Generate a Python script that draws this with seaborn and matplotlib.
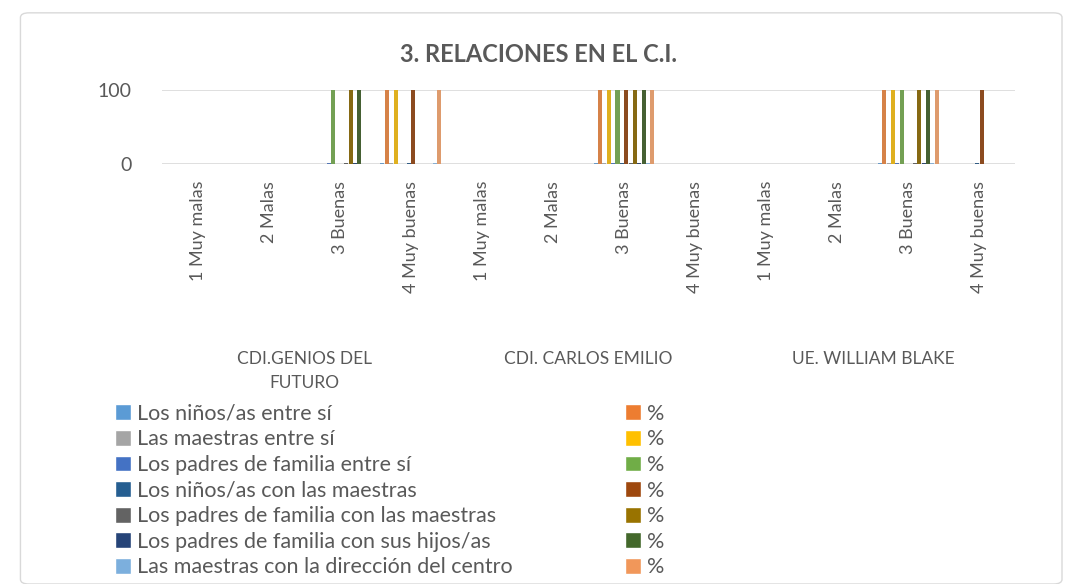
import numpy as np
import pandas as pd
import seaborn as sns
import matplotlib.pyplot as plt
from matplotlib.patches import Patch, FancyBboxPatch
from matplotlib.transforms import blended_transform_factory

# --- data ---
centros = ["CDI.GENIOS DEL\nFUTURO", "CDI. CARLOS EMILIO", "UE. WILLIAM BLAKE"]
valoraciones = ["1 Muy malas", "2 Malas", "3 Buenas", "4 Muy buenas"]

relaciones = [
    "Los niños/as entre sí",
    "Las maestras entre sí",
    "Los padres de familia entre sí",
    "Los niños/as con las maestras",
    "Los padres de familia con las maestras",
    "Los padres de familia con sus hijos/as",
    "Las maestras con la dirección del centro",
]

# percentage per relation (rows) for each of the 12 categories (3 centres x 4 ratings)
porcentaje = [
    [0, 0, 0, 100,   0, 0, 100, 0,   0, 0, 100, 0],
    [0, 0, 0, 100,   0, 0, 100, 0,   0, 0, 100, 0],
    [0, 0, 100, 0,   0, 0, 100, 0,   0, 0, 100, 0],
    [0, 0, 0, 100,   0, 0, 100, 0,   0, 0, 0, 100],
    [0, 0, 100, 0,   0, 0, 100, 0,   0, 0, 100, 0],
    [0, 0, 100, 0,   0, 0, 100, 0,   0, 0, 100, 0],
    [0, 0, 0, 100,   0, 0, 100, 0,   0, 0, 100, 0],
]
# counts (frequency) per relation, tiny next to the percentages
frecuencia = [
    [0, 0, 0, 1,   0, 0, 1, 0,   0, 0, 1, 0],
    [0, 0, 0, 1,   0, 0, 1, 0,   0, 0, 1, 0],
    [0, 0, 1, 0,   0, 0, 1, 0,   0, 0, 1, 0],
    [0, 0, 0, 1,   0, 0, 1, 0,   0, 0, 0, 1],
    [0, 0, 1, 0,   0, 0, 1, 0,   0, 0, 1, 0],
    [0, 0, 1, 0,   0, 0, 1, 0,   0, 0, 1, 0],
    [0, 0, 0, 1,   0, 0, 1, 0,   0, 0, 1, 0],
]

col_frec = ["#5B9BD5", "#A5A5A5", "#4472C4", "#255E91", "#636363", "#264478", "#7CAFDD"]
col_pct = ["#ED7D31", "#FFC000", "#70AD47", "#9E480E", "#997300", "#43682B", "#F1975A"]

# --- long table: series interleaved (count, %) like the original sheet ---
cat_keys = [f"{c}|{v}" for c in centros for v in valoraciones]
rows = []
serie_order = []
palette = {}
for i, rel in enumerate(relaciones):
    s_f, s_p = f"f{i}", f"p{i}"
    serie_order += [s_f, s_p]
    palette[s_f] = col_frec[i]
    palette[s_p] = col_pct[i]
    for k, key in enumerate(cat_keys):
        rows.append({"cat": key, "serie": s_f, "valor": frecuencia[i][k]})
        rows.append({"cat": key, "serie": s_p, "valor": porcentaje[i][k]})
df = pd.DataFrame(rows)

# --- plot ---
sns.set_theme(style="white")
plt.rcParams["font.family"] = ["Lato", "DejaVu Sans"]
txt = "#595959"

fig = plt.figure(figsize=(10.76, 5.84), dpi=100)
fig.patches.append(FancyBboxPatch((0.019, 0.0), 0.968, 0.978,
                                  boxstyle="round,pad=0,rounding_size=0.008",
                                  transform=fig.transFigure, facecolor="white",
                                  edgecolor="#D9D9D9", linewidth=1.0, zorder=-1))
ax = fig.add_axes([162 / 1076, 1 - 164 / 584, 853 / 1076, 74 / 584])

for y in (0, 100):
    ax.axhline(y, color="#D9D9D9", linewidth=1.2, zorder=0)

sns.barplot(data=df, x="cat", y="valor", hue="serie", order=cat_keys,
            hue_order=serie_order, palette=palette, width=0.86, gap=0.08,
            linewidth=0, legend=False, ax=ax, zorder=2)

ax.set_ylim(0, 100)
ax.set_xlim(-0.5, len(cat_keys) - 0.5)
ax.set_yticks([0, 100])
ax.set_yticklabels(["0", "100"], fontsize=14, color=txt)
ax.set_xticks(range(len(cat_keys)))
ax.set_xticklabels([k.split("|")[1] for k in cat_keys], rotation=90,
                   fontsize=13, color=txt, va="top")
ax.tick_params(axis="both", length=0)
ax.tick_params(axis="x", pad=12)
ax.tick_params(axis="y", pad=22)
ax.set_xlabel("")
ax.set_ylabel("")
for sp in ax.spines.values():
    sp.set_visible(False)

# centre names under each group of 4 ratings
tr = blended_transform_factory(ax.transData, fig.transFigure)
for g, nombre in enumerate(centros):
    ax.text(g * 4 + 1.5, 1 - 351 / 584, nombre, transform=tr, ha="center",
            va="top", fontsize=12.5, color=txt, linespacing=1.65)

fig.text(0.5, 1 - 54 / 584, "3. RELACIONES EN EL C.I.", ha="center",
         va="center", fontsize=17, fontweight="bold", color=txt)

# legend: left column counts, right column percentages
h_f = [Patch(facecolor=c, label=r) for c, r in zip(col_frec, relaciones)]
h_p = [Patch(facecolor=c, label="%") for c in col_pct]
kw = dict(frameon=False, fontsize=15.5, labelcolor=txt, handlelength=0.75,
          handleheight=0.75, handletextpad=0.3, labelspacing=0.26,
          borderpad=0, loc="upper left")
fig.legend(handles=h_f, bbox_to_anchor=(104 / 1076, 1 - 393 / 584), **kw)
fig.legend(handles=h_p, bbox_to_anchor=(614 / 1076, 1 - 393 / 584), **kw)

fig.savefig("out.png", dpi=100)
